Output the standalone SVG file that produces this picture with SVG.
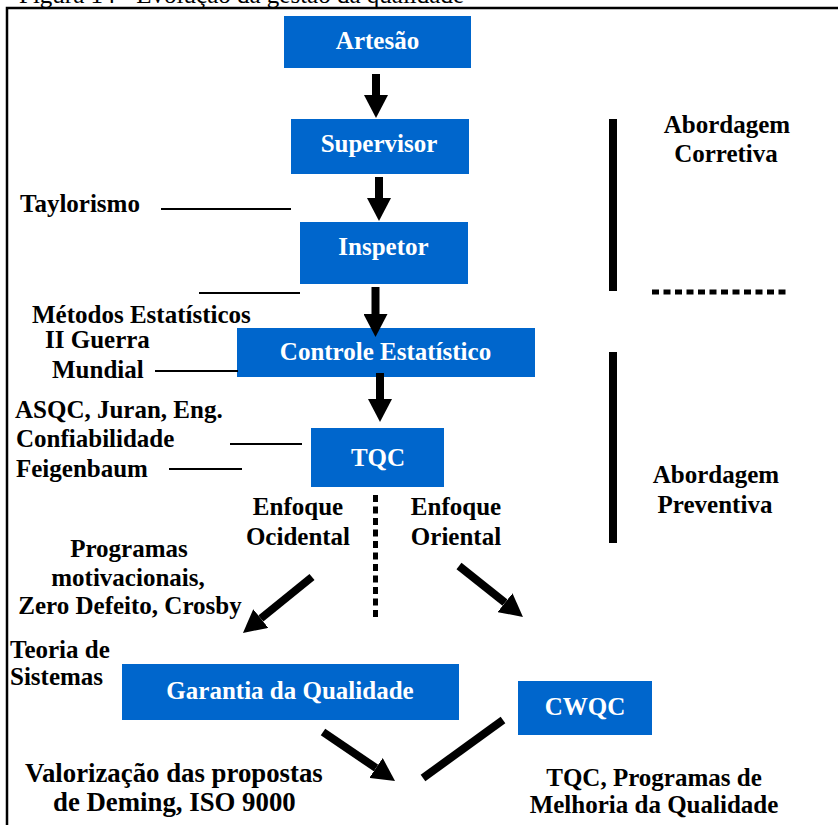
<svg xmlns="http://www.w3.org/2000/svg" width="838" height="825" viewBox="0 0 838 825">
  <style>
    .box { fill: #0066CC; }
    .bt { font-family: "Liberation Serif", "Times New Roman", serif; font-weight: bold; font-size: 25px; fill: #FFFFFF; text-anchor: middle; }
    .lb { font-family: "Liberation Serif", "Times New Roman", serif; font-weight: bold; font-size: 25px; fill: #000000; }
    .big { font-size: 26.8px; }
    .mid { text-anchor: middle; }
    .thin { stroke: #000; stroke-width: 2; fill: none; }
    .shaft { stroke: #000; stroke-width: 8; fill: none; }
    .bar { stroke: #000; stroke-width: 8; fill: none; }
    .dots { stroke: #000; stroke-width: 5; fill: none; stroke-dasharray: 7 4.5; }
  </style>
  <defs>
    <marker id="head" markerUnits="userSpaceOnUse" markerWidth="24" markerHeight="24" refX="0" refY="12" orient="auto">
      <path d="M0,0 L23,12 L0,24 Z" fill="#000"/>
    </marker>
  </defs>

  <rect width="838" height="825" fill="#FFFFFF"/>

  <!-- caption, clipped at the top edge -->
  <text x="19" y="3" font-family="Liberation Serif, Times New Roman, serif" font-size="25" fill="#000">Figura 14 - Evolução da gestão da qualidade</text>

  <!-- frame -->
  <path d="M7,840 L7,8 L850,8" fill="none" stroke="#000" stroke-width="2.5"/>

  <!-- stages -->
  <g id="artesao">
    <rect class="box" x="284" y="16" width="187" height="52"/>
    <text class="bt" x="377.5" y="49">Artesão</text>
  </g>
  <g id="supervisor">
    <rect class="box" x="291" y="119" width="178" height="55"/>
    <text class="bt" x="379" y="152">Supervisor</text>
  </g>
  <g id="inspetor">
    <rect class="box" x="300" y="222" width="168" height="62"/>
    <text class="bt" x="383.5" y="255">Inspetor</text>
  </g>
  <g id="controle">
    <rect class="box" x="237" y="328" width="298" height="49"/>
    <text class="bt" x="385.5" y="360">Controle Estatístico</text>
  </g>
  <g id="tqc">
    <rect class="box" x="311" y="428" width="133" height="59"/>
    <text class="bt" x="378" y="466">TQC</text>
  </g>
  <g id="garantia">
    <rect class="box" x="122" y="664" width="337" height="56"/>
    <text class="bt" x="290" y="699">Garantia da Qualidade</text>
  </g>
  <g id="cwqc">
    <rect class="box" x="518" y="681" width="134" height="54"/>
    <text class="bt" x="585" y="715">CWQC</text>
  </g>

  <!-- connectors -->
  <g id="connectors">
    <line class="shaft" x1="376" y1="74" x2="376" y2="95" marker-end="url(#head)"/>
    <line class="shaft" x1="379" y1="177" x2="379" y2="198" marker-end="url(#head)"/>
    <line class="shaft" x1="375.5" y1="287" x2="375.5" y2="314" marker-end="url(#head)"/>
    <line class="shaft" x1="380" y1="373" x2="380" y2="399" marker-end="url(#head)"/>
    <line class="shaft" x1="312" y1="577" x2="260.8" y2="618.5" marker-end="url(#head)"/>
    <line class="shaft" x1="459" y1="566" x2="505" y2="602.7" marker-end="url(#head)"/>
    <line class="shaft" x1="323" y1="732" x2="376" y2="768" marker-end="url(#head)"/>
    <line class="shaft" x1="503" y1="720" x2="423" y2="778"/>
    <!-- split between western and eastern approaches -->
    <line class="dots" x1="375.5" y1="495" x2="375.5" y2="618"/>
    <!-- influence ticks -->
    <line class="thin" x1="161" y1="209" x2="291" y2="209"/>
    <line class="thin" x1="199" y1="293" x2="300" y2="293"/>
    <line class="thin" x1="155" y1="371" x2="238" y2="371"/>
    <line class="thin" x1="230" y1="444" x2="302" y2="444"/>
    <line class="thin" x1="169" y1="469" x2="242" y2="469"/>
  </g>

  <!-- approach brackets -->
  <g id="abordagens">
    <line class="bar" x1="613" y1="119" x2="613" y2="291"/>
    <line class="dots" x1="652" y1="292" x2="790" y2="292"/>
    <line class="bar" x1="613" y1="352" x2="613" y2="543"/>
    <text class="lb mid" x="727" y="133">Abordagem</text>
    <text class="lb mid" x="726" y="162">Corretiva</text>
    <text class="lb mid" x="716" y="483">Abordagem</text>
    <text class="lb mid" x="715" y="513">Preventiva</text>
  </g>

  <!-- side notes -->
  <g id="notas">
    <text class="lb" x="20" y="212">Taylorismo</text>
    <text class="lb" x="32" y="323">Métodos Estatísticos</text>
    <text class="lb" x="45" y="348">II Guerra</text>
    <text class="lb" x="52" y="378">Mundial</text>
    <text class="lb" x="15" y="418">ASQC, Juran, Eng.</text>
    <text class="lb" x="16" y="447">Confiabilidade</text>
    <text class="lb" x="16" y="477">Feigenbaum</text>
    <text class="lb mid" x="298" y="515">Enfoque</text>
    <text class="lb mid" x="298" y="545">Ocidental</text>
    <text class="lb mid" x="456" y="515">Enfoque</text>
    <text class="lb mid" x="456" y="545">Oriental</text>
    <text class="lb mid" x="129" y="557">Programas</text>
    <text class="lb mid" x="128" y="586">motivacionais,</text>
    <text class="lb mid" x="130" y="614">Zero Defeito, Crosby</text>
    <text class="lb" x="10" y="658">Teoria de</text>
    <text class="lb" x="10" y="685">Sistemas</text>
    <text class="lb big" x="25" y="782">Valorização das propostas</text>
    <text class="lb big" x="53" y="811">de Deming, ISO 9000</text>
    <text class="lb mid" x="654" y="786">TQC, Programas de</text>
    <text class="lb mid" x="654" y="813">Melhoria da Qualidade</text>
  </g>
</svg>
